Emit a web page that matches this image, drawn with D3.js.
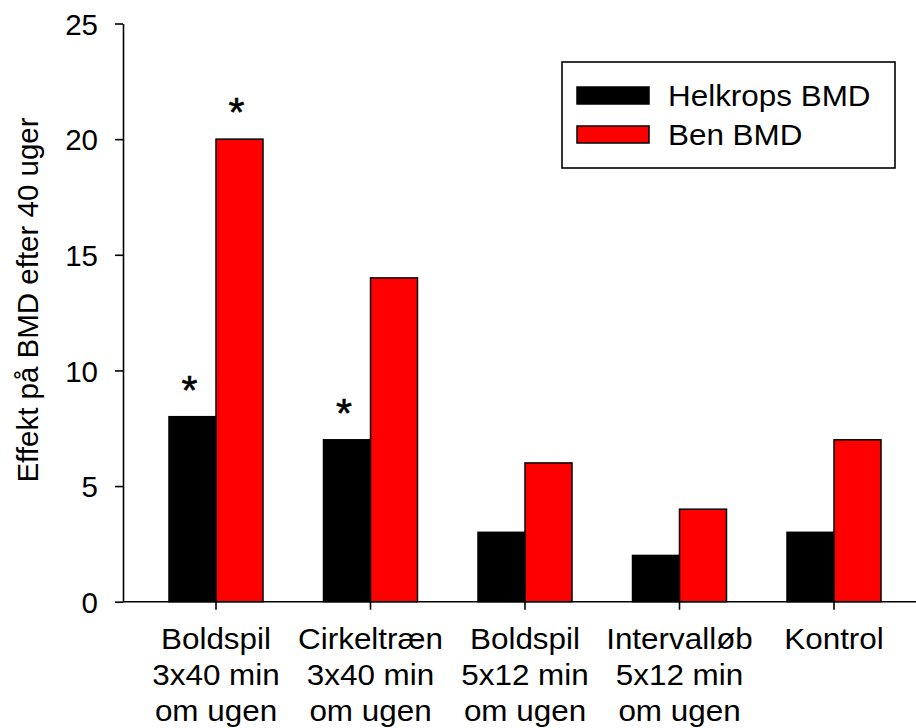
<!DOCTYPE html>
<html>
<head>
<meta charset="utf-8">
<script src="https://cdn.jsdelivr.net/npm/d3@7"></script>
<style>
  html, body { margin: 0; padding: 0; background: #fff; }
  svg { display: block; }
  text { font-family: "Liberation Sans", Arial, sans-serif; fill: #000; }
</style>
</head>
<body>
<svg id="chart" width="916" height="728"></svg>
<script>
// Groups along the x axis (each label split into lines)
const categories = ["Boldspil 3x40", "Cirkeltræn 3x40", "Boldspil 5x12", "Intervalløb 5x12", "Kontrol"];
const categoryLines = [
  ["Boldspil", "3x40 min", "om ugen"],
  ["Cirkeltræn", "3x40 min", "om ugen"],
  ["Boldspil", "5x12 min", "om ugen"],
  ["Intervalløb", "5x12 min", "om ugen"],
  ["Kontrol"]
];
const seriesNames = ["Helkrops BMD", "Ben BMD"];
const seriesColors = ["#000000", "#ff0000"];
const helkrops = [8, 7, 3, 2, 3];
const ben = [20, 14, 6, 4, 7];
// significance markers per series
const helkropsSig = [true, true, false, false, false];
const benSig = [true, false, false, false, false];
const yTicks = [0, 5, 10, 15, 20, 25];
const yLabel = "Effekt på BMD efter 40 uger";

const values = [helkrops, ben];
const sigs = [helkropsSig, benSig];

const svg = d3.select("#chart");
const axisX = 123, baseY = 601.7, topY = 23.5;
const stretch = 1.065; // slightly wide lettering for horizontal labels

const y = d3.scaleLinear().domain([0, 25]).range([baseY, topY]);
const x0 = d3.scaleBand().domain(categories).range([138.75, 911.25]).padding(0);
const x1 = d3.scaleBand().domain(seriesNames).range([-47, 47]).padding(0);
const cx = c => x0(c) + x0.bandwidth() / 2;

// bars
seriesNames.forEach((s, si) => {
  svg.append("g").selectAll("rect")
    .data(categories)
    .join("rect")
    .attr("x", c => cx(c) + x1(s))
    .attr("y", (c, i) => y(values[si][i]))
    .attr("width", x1.bandwidth())
    .attr("height", (c, i) => y(0) - y(values[si][i]))
    .attr("fill", seriesColors[si])
    .attr("stroke", "#000")
    .attr("stroke-width", 1.5);
});

// significance asterisks
seriesNames.forEach((s, si) => {
  svg.append("g").selectAll("text")
    .data(categories.map((c, i) => ({ c, i })).filter(d => sigs[si][d.i]))
    .join("text")
    .attr("x", d => cx(d.c) + x1(s) + x1.bandwidth() / 2 - 3)
    .attr("y", d => y(values[si][d.i]) - 13)
    .attr("text-anchor", "middle")
    .attr("font-size", 41)
    .attr("stroke", "#000")
    .attr("stroke-width", 0.6)
    .text("*");
});

// y axis
const yAxis = d3.axisLeft(y).tickValues(yTicks).tickSize(8).tickSizeOuter(0).tickPadding(17).tickFormat(d3.format("d"));
const gy = svg.append("g").attr("transform", `translate(${axisX},0)`).call(yAxis);
gy.select(".domain").attr("stroke-width", 1.6);
gy.selectAll(".tick line").attr("stroke-width", 1.6);
gy.selectAll(".tick text").attr("font-size", 29.5).attr("dy", "0.36em")
  .style("font-family", "'Liberation Sans', Arial, sans-serif");

// x axis
const xAxis = d3.axisBottom(x0).tickSize(8).tickSizeOuter(0).tickFormat("");
const gx = svg.append("g").attr("transform", `translate(0,${baseY})`).call(xAxis);
gx.select(".domain").remove();
gx.selectAll(".tick line").attr("stroke-width", 1.6);
svg.append("line")
  .attr("x1", axisX).attr("x2", 916)
  .attr("y1", baseY).attr("y2", baseY)
  .attr("stroke", "#000").attr("stroke-width", 1.6);

// category labels
const lab = svg.append("g");
categories.forEach((c, i) => {
  const t = lab.append("text")
    .attr("transform", `translate(${cx(c)},649) scale(${stretch},1)`)
    .attr("text-anchor", "middle")
    .attr("font-size", 29.5);
  categoryLines[i].forEach((line, li) => {
    t.append("tspan").attr("x", 0).attr("y", li * 36).text(line);
  });
});

// y label
svg.append("text")
  .attr("transform", `translate(38,300) rotate(-90)`)
  .attr("text-anchor", "middle")
  .attr("font-size", 29.5)
  .text(yLabel);

// legend
const legend = svg.append("g");
legend.append("rect")
  .attr("x", 562).attr("y", 62).attr("width", 333).attr("height", 106)
  .attr("fill", "#fff").attr("stroke", "#000").attr("stroke-width", 1.6);
seriesNames.forEach((s, si) => {
  const yy = 87 + si * 39;
  legend.append("rect")
    .attr("x", 577).attr("y", yy).attr("width", 72).attr("height", 17)
    .attr("fill", seriesColors[si]).attr("stroke", "#000").attr("stroke-width", 1.5);
  legend.append("text")
    .attr("transform", `translate(668,${yy + 19}) scale(${stretch},1)`)
    .attr("font-size", 29.5)
    .text(s);
});
</script>
</body>
</html>
